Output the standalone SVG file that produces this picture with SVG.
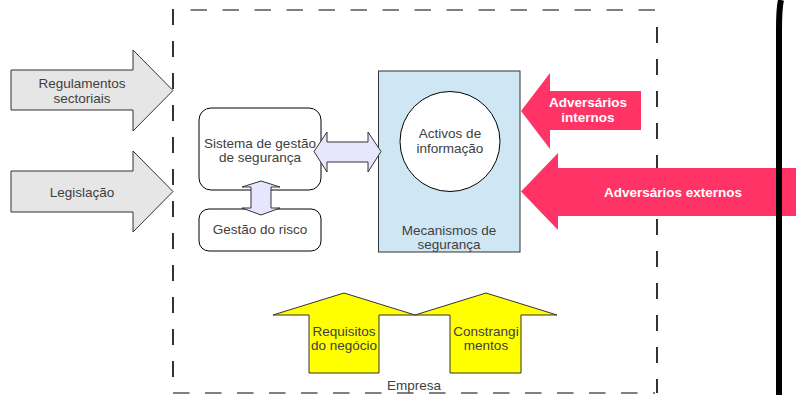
<svg xmlns="http://www.w3.org/2000/svg" width="796" height="395" viewBox="0 0 796 395">
<style>
text{font-family:"Liberation Sans",Arial,sans-serif;font-size:13.5px;fill:#404040;text-anchor:middle}
.w{fill:#ffffff;font-weight:bold}
.grayarrow{fill:#e6e6e6;stroke:#333333;stroke-width:1}
.lav{fill:#e6e6ff;stroke:#333333;stroke-width:1}
.yel{fill:#ffff00;stroke:#333333;stroke-width:1}
.pink{fill:#ff3366;stroke:none}
.box{fill:#ffffff;stroke:#000000;stroke-width:1}
.vdash{stroke:#000000;stroke-width:1.6;stroke-dasharray:16 16;fill:none}
.hdash{stroke:#808080;stroke-width:2.2;stroke-dasharray:16.5 15.5;fill:none}
</style>
<rect width="796" height="395" fill="#ffffff"/>
<g id="empresa">
<line class="hdash" x1="190.5" y1="10" x2="658" y2="10"/>
<line class="hdash" x1="173" y1="393" x2="655" y2="393"/>
<line class="vdash" x1="173" y1="9" x2="173" y2="393"/>
<line class="vdash" x1="657" y1="27" x2="657" y2="393"/>
<text x="414" y="390">Empresa</text>
</g>
<g id="regulamentos">
<polygon class="grayarrow" points="11,70 133,70 133,50 173,90.5 133,131 133,110 11,110"/>
<text x="82" y="88">Regulamentos</text>
<text x="82" y="103">sectoriais</text>
</g>
<g id="legislacao">
<polygon class="grayarrow" points="11,171 133,171 133,151 173,191.5 133,232 133,212 11,212"/>
<text x="82" y="197">Legislação</text>
</g>
<g id="mecanismos">
<rect x="378.5" y="71" width="141.5" height="181" fill="#cfe7f5" stroke="#333333" stroke-width="1"/>
<text x="449" y="235">Mecanismos de</text>
<text x="449" y="249">segurança</text>
</g>
<g id="activos">
<circle cx="450" cy="141.5" r="50" fill="#ffffff" stroke="#000000" stroke-width="1"/>
<text x="450" y="138">Activos de</text>
<text x="450" y="152.5">informação</text>
</g>
<g id="sistema">
<rect class="box" x="199" y="108" width="122" height="82" rx="12" ry="12"/>
<text x="260" y="147.5">Sistema de gestão</text>
<text x="260" y="161.5">de segurança</text>
</g>
<g id="risco">
<rect class="box" x="199" y="209" width="122" height="42" rx="10" ry="10"/>
<text x="260" y="234">Gestão do risco</text>
</g>
<g id="connectors">
<polygon class="lav" points="261,181 242,187 251,187 251,208 242,208 261,215 280,208 271,208 271,187 280,187"/>
<polygon class="lav" points="314,151.5 327,132 327,142 368,142 368,132 381,151.5 368,172 368,162 327,162 327,172"/>
</g>
<g id="adv-internos">
<polygon class="pink" points="521,111 550,73 550,91 641,91 641,130 550,130 550,149"/>
<text class="w" x="588" y="107">Adversários</text>
<text class="w" x="588" y="121.5">internos</text>
</g>
<g id="adv-externos">
<polygon class="pink" points="521,191.5 558,153 558,168 800,168 800,216 558,216 558,230"/>
<text class="w" x="673" y="196.5">Adversários externos</text>
</g>
<g id="requisitos">
<polygon class="yel" points="273,315 344,293 415,315 379,315 379,373 309,373 309,315"/>
<text x="344" y="335.5">Requisitos</text>
<text x="344" y="350">do negócio</text>
</g>
<g id="constrangimentos">
<polygon class="yel" points="415,315 486,293 557,315 521,315 521,373 450,373 450,315"/>
<text x="486" y="335.5">Constrangi</text>
<text x="486" y="350">mentos</text>
</g>
<g id="fronteira">
<path d="M781,0 Q779,8 779,30 L779,395" fill="none" stroke="#000000" stroke-width="6"/>
</g>
</svg>
